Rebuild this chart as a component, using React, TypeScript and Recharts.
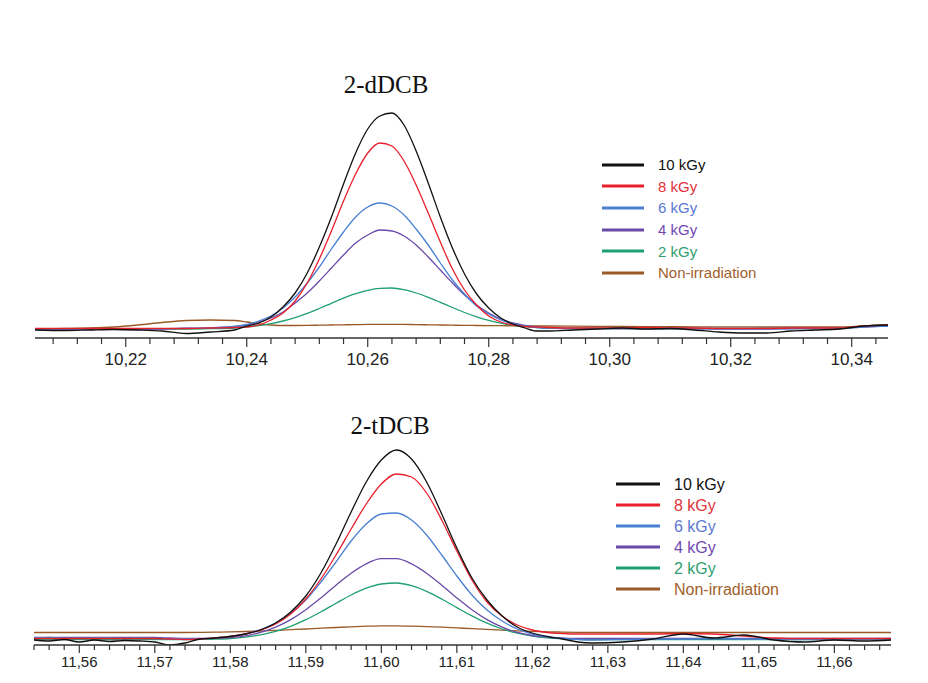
import React from 'react';
import { LineChart, Line, XAxis, YAxis, Legend } from 'recharts';

// 2-dDCB panel (retention time, min)
const topX = [
  10.205, 10.21, 10.214, 10.218, 10.222, 10.226, 10.23, 10.234, 10.238,
  10.24, 10.242, 10.244, 10.246, 10.248, 10.25, 10.252, 10.254, 10.256, 10.258, 10.26, 10.262, 10.264,
  10.266, 10.268, 10.27, 10.272, 10.274, 10.276, 10.278, 10.28, 10.282, 10.284, 10.286, 10.288, 10.29,
  10.294, 10.298, 10.302, 10.306, 10.31, 10.314, 10.318, 10.322, 10.326, 10.33, 10.334, 10.338, 10.342, 10.346,
];
const topK10 = [
  -1, -1.5, -1, -0.5, -1, -2, -4.5, -3, -1,
  3, 6, 12, 22, 36, 56, 82, 112, 145, 176, 200, 213, 216,
  204, 178, 146, 112, 81, 55, 35, 21, 11, 5, 1, -2, -2,
  -1, 0, 1, 0, 0.5, -1, -3, -4, -4, -2, -1, 0, 3, 4,
];
const topK8 = [
  0.5, 0.5, 0.5, 0.5, 0.5, 0.5, 0.5, 1, 1.5,
  2, 4, 9, 16, 28, 46, 70, 98, 128, 155, 176, 186, 183,
  168, 144, 116, 87, 60, 39, 24, 13, 7, 4, 2.5, 2, 1.5,
  1, 1, 1, 1.5, 1, 1, 0.5, 0.5, 0.5, 1, 1, 1, 3, 4,
];
const topK6 = [
  0, 0, 0, 0, 0, 0, 0.5, 1, 2.5,
  4.5, 8, 13, 21, 32, 46, 62, 80, 97, 112, 122, 126, 123,
  114, 100, 84, 66, 49, 35, 23, 15, 9, 5, 3, 1.5, 0.8,
  0.5, 0.5, 0.5, 0.5, 0.5, 0.5, 0, 0, 0, 0.5, 0.5, 0.5, 2, 3,
];
const topK4 = [
  0.3, 0.3, 0.3, 0.3, 0.3, 0.3, 0.8, 1.2, 2.5,
  4, 7, 11, 17, 26, 36, 48, 61, 74, 86, 94, 99, 98,
  93, 84, 72, 59, 46, 34, 24, 16, 10, 6, 3.6, 2, 1,
  0.5, 0.5, 0.5, 0.5, 0.5, 0.5, 0.5, 0.5, 0.5, 0.5, 0.5, 0.5, 2, 3,
];
const topK2 = [
  0, 0, 0, 0, 0, 0, 0, 0.3, 1,
  2, 3.4, 5.3, 8, 11.4, 15.6, 20.5, 25.7, 30.8, 35.3, 38.7, 40.7, 41,
  39.3, 36, 31.7, 26.7, 21.5, 16.5, 12.2, 8.6, 5.8, 3.7, 2.3, 1.4, 0.8,
  0.5, 0.5, 0.5, 0.5, 0.5, 0.5, 0.5, 0.5, 0.5, 0.5, 0.5, 0.5, 3, 4,
];
const topNon = [
  0, 0.5, 1, 2, 4, 6.5, 8.5, 9, 8.5,
  7, 5, 4, 3.5, 3.5, 3.6, 3.8, 4, 4.2, 4.4, 4.6, 4.7, 4.7,
  4.6, 4.4, 4.2, 4, 3.8, 3.6, 3.5, 3.4, 3.3, 3.2, 3.1, 3, 3,
  2.8, 2.6, 2.5, 2.4, 2.3, 2.2, 2.2, 2.1, 2, 2, 2, 2, 3, 4,
];
const topMajorTicks = [10.22, 10.24, 10.26, 10.28, 10.3, 10.32, 10.34];
const topMinorTicks = [
  10.208, 10.212, 10.216, 10.224, 10.228, 10.232, 10.236, 10.244, 10.248, 10.252, 10.256,
  10.264, 10.268, 10.272, 10.276, 10.284, 10.288, 10.292, 10.296, 10.304, 10.308, 10.312,
  10.316, 10.324, 10.328, 10.332, 10.336, 10.344,
];

// 2-tDCB panel
const botX = [
  11.554, 11.556, 11.558, 11.56, 11.562, 11.564, 11.566, 11.568, 11.57, 11.572, 11.574,
  11.576, 11.578, 11.58, 11.582, 11.584, 11.586, 11.588, 11.59, 11.592, 11.594, 11.596, 11.598, 11.6, 11.602,
  11.604, 11.606, 11.608, 11.61, 11.612, 11.614, 11.616, 11.618, 11.62, 11.622, 11.624, 11.626, 11.628,
  11.632, 11.636, 11.64, 11.644, 11.648, 11.652, 11.656, 11.66, 11.664, 11.6675,
];
const botK10 = [
  0, -1, 0.5, -2, 0, -1.5, -0.5, -1, -2, -5, -3,
  1, 2, 3.5, 6, 10, 17, 28, 44, 67, 96, 128, 158, 180, 190,
  181, 158, 126, 92, 62, 40, 24, 13, 7, 3.5, 1, -2, -3,
  -2, 1, 6, 2, 5, 0, -2, 0, -1, 0,
];
const botK8 = [
  1.5, 1.5, 1.5, 1.5, 1.5, 1.5, 1.5, 1.5, 1.5, 1, 0.5,
  1, 2, 3.5, 6, 10, 16, 26, 41, 61, 85, 111, 136, 156, 166,
  163, 147, 120, 89, 60, 38, 24, 15, 10, 7.5, 6.5, 6, 6,
  6, 6, 6.5, 6, 4, 2, 1.5, 1.5, 1.5, 1.5,
];
const botK6 = [
  2, 2.5, 2, 1.5, 2, 2, 1.5, 2, 1.5, 1, 1,
  1, 2, 3.5, 6, 10.5, 17, 27, 40, 58, 78, 99, 116, 126, 127,
  120, 105, 85, 64, 45, 30, 19, 11, 6, 3, 1.5, 0.5, 0,
  0.5, 1, 1, 1.5, 1, 1, 0.5, 1, 1, 1.5,
];
const botK4 = [
  2.5, 2.5, 2.5, 2.5, 2.5, 2.5, 2.5, 2.5, 2.5, 2, 1.5,
  1.5, 1.8, 2.5, 4.2, 7.6, 12.9, 20.4, 30.3, 42.1, 54.8, 66.8, 76.2, 81.3, 81.3,
  76.2, 66.8, 54.8, 42.1, 30.3, 20.4, 12.9, 7.6, 4.5, 2.8, 2, 1.5, 1.5,
  1.5, 1.5, 1.5, 1.5, 1.5, 1.5, 1.5, 1.5, 1.5, 1.5,
];
const botK2 = [
  0.5, 0.5, 0.5, 0.5, 0.5, 0.5, 0.5, 0.5, 0.5, 0.5, 0.5,
  0.6, 0.9, 1.5, 2.9, 5.2, 8.7, 13.7, 20.3, 28.2, 36.7, 45, 51.8, 56, 57,
  54.3, 48.7, 41, 32.4, 24.1, 16.8, 11, 6.8, 3.9, 2.1, 1.1, 0.6, 0.4,
  0.5, 0.5, 0.5, 0.5, 0.5, 0.5, 0.5, 0.5, 0.5, 0.5,
];
const botNon = [
  7.5, 7.5, 7.5, 7.5, 7.5, 7.5, 7.5, 7.5, 7.5, 7.5, 7.5,
  7.6, 7.8, 8.1, 8.5, 9, 9.6, 10.3, 11, 11.8, 12.5, 13.2, 13.8, 14.2, 14.2,
  13.9, 13.4, 12.8, 12.1, 11.3, 10.6, 9.9, 9.2, 8.6, 8.2, 7.9, 7.7, 7.6,
  7.5, 7.5, 7.5, 7.5, 7.5, 7.5, 7.5, 7.5, 7.5, 7.5,
];
const botMajorTicks = [11.56, 11.57, 11.58, 11.59, 11.6, 11.61, 11.62, 11.63, 11.64, 11.65, 11.66];
const botMinorTicks = [
  11.554, 11.556, 11.558, 11.562, 11.564, 11.566, 11.568, 11.572, 11.574, 11.576, 11.578,
  11.582, 11.584, 11.586, 11.588, 11.592, 11.594, 11.596, 11.598, 11.602, 11.604, 11.606, 11.608,
  11.612, 11.614, 11.616, 11.618, 11.622, 11.624, 11.626, 11.628, 11.632, 11.634, 11.636, 11.638,
  11.642, 11.644, 11.646, 11.648, 11.652, 11.654, 11.656, 11.658, 11.662, 11.664, 11.666,
];

const series = [
  { key: 'k10', name: '10 kGy', color: '#111111', text: '#111111' },
  { key: 'k8', name: '8 kGy', color: '#e8202c', text: '#e0323c' },
  { key: 'k6', name: '6 kGy', color: '#4a7fd2', text: '#5a78d0' },
  { key: 'k4', name: '4 kGy', color: '#6a4aa8', text: '#7048b0' },
  { key: 'k2', name: '2 kGy', color: '#1fa070', text: '#30a070' },
  { key: 'non', name: 'Non-irradiation', color: '#9a5a28', text: '#a0602a' },
];

const topRows = topX.map((x, i) => ({
  x, k10: topK10[i], k8: topK8[i], k6: topK6[i], k4: topK4[i], k2: topK2[i], non: topNon[i],
}));
const botRows = botX.map((x, i) => ({
  x, k10: botK10[i], k8: botK8[i], k6: botK6[i], k4: botK4[i], k2: botK2[i], non: botNon[i],
}));

const makeTick = (majors: number[], fontSize: number, labelDy: number, majorLen: number, minorLen: number) =>
  (props: any) => {
    const { x, y, payload } = props;
    const v = payload.value as number;
    const major = majors.some((m) => Math.abs(m - v) < 1e-6);
    return (
      <g>
        <line x1={x} x2={x} y1={y} y2={y + (major ? majorLen : minorLen)} stroke="#333" strokeWidth={1.2} />
        {major && (
          <text x={x} y={y + labelDy} textAnchor="middle" fontSize={fontSize}
            fontFamily="'Liberation Sans', Arial, sans-serif" fill="#222">
            {v.toFixed(2).replace('.', ',')}
          </text>
        )}
      </g>
    );
  };

const LegendBox = ({ rowH, lineW, gap, fontSize }: { rowH: number; lineW: number; gap: number; fontSize: number }) => (
  <div style={{ fontFamily: "'Liberation Sans', Arial, sans-serif", fontSize }}>
    {series.map((s) => (
      <div key={s.key} style={{ display: 'flex', alignItems: 'center', height: rowH }}>
        <svg width={lineW} height={4} style={{ display: 'block' }}>
          <line x1={0} x2={lineW} y1={2} y2={2} stroke={s.color} strokeWidth={2.8} />
        </svg>
        <span style={{ marginLeft: gap, color: s.text, lineHeight: '17px' }}>{s.name}</span>
      </div>
    ))}
  </div>
);

const drawOrder = ['non', 'k2', 'k4', 'k6', 'k8', 'k10'];

const titleStyle: React.CSSProperties = {
  position: 'absolute', width: 200, textAlign: 'center',
  fontFamily: "'Liberation Serif', 'Times New Roman', serif", fontSize: 25, lineHeight: '25px', color: '#111',
};

export default function App() {
  return (
    <div style={{ position: 'absolute', left: 0, top: 0, width: 928, height: 683, background: '#fff', overflow: 'hidden' }}>
      <div style={{ ...titleStyle, left: 286, top: 72 }}>2-dDCB</div>
      <div style={{ ...titleStyle, left: 290, top: 413 }}>2-tDCB</div>

      <div style={{ position: 'absolute', left: 0, top: 0 }}>
        <LineChart width={928} height={368} data={topRows} margin={{ top: 100, right: 40, left: 35, bottom: 0 }}>
          <XAxis dataKey="x" type="number" domain={[10.205, 10.346]} allowDataOverflow
            ticks={[...topMinorTicks, ...topMajorTicks].sort((a, b) => a - b)} interval={0}
            tickSize={0} tickMargin={0} tickLine={false} height={30}
            axisLine={{ stroke: '#333', strokeWidth: 1.6 }}
            tick={makeTick(topMajorTicks, 17, 27, 9, 6)} />
          <YAxis hide domain={[-9, 229]} allowDataOverflow />
          {drawOrder.map((k) => {
            const s = series.find((d) => d.key === k)!;
            return (
              <Line key={k} dataKey={k} name={s.name} type="monotone" stroke={s.color} strokeWidth={1.3}
                dot={false} isAnimationActive={false} />
            );
          })}
          <Legend layout="vertical" align="center" verticalAlign="middle"
            wrapperStyle={{ top: 154, left: 602, width: 240, height: 130 }}
            content={() => <LegendBox rowH={21.6} lineW={42} gap={14} fontSize={15} />} />
        </LineChart>
      </div>

      <div style={{ position: 'absolute', left: 0, top: 380 }}>
        <LineChart width={928} height={295} data={botRows} margin={{ top: 60, right: 37, left: 34, bottom: 0 }}>
          <XAxis dataKey="x" type="number" domain={[11.554, 11.6675]} allowDataOverflow
            ticks={[...botMinorTicks, ...botMajorTicks].sort((a, b) => a - b)} interval={0}
            tickSize={0} tickMargin={0} tickLine={false} height={30}
            axisLine={{ stroke: '#333', strokeWidth: 1.6 }}
            tick={makeTick(botMajorTicks, 15, 22, 8, 5)} />
          <YAxis hide domain={[-5, 200]} allowDataOverflow />
          {drawOrder.map((k) => {
            const s = series.find((d) => d.key === k)!;
            return (
              <Line key={k} dataKey={k} name={s.name} type="monotone" stroke={s.color} strokeWidth={1.3}
                dot={false} isAnimationActive={false} />
            );
          })}
          <Legend layout="vertical" align="center" verticalAlign="middle"
            wrapperStyle={{ top: 93.5, left: 616, width: 240, height: 130 }}
            content={() => <LegendBox rowH={21} lineW={44} gap={14} fontSize={16} />} />
        </LineChart>
      </div>
    </div>
  );
}
